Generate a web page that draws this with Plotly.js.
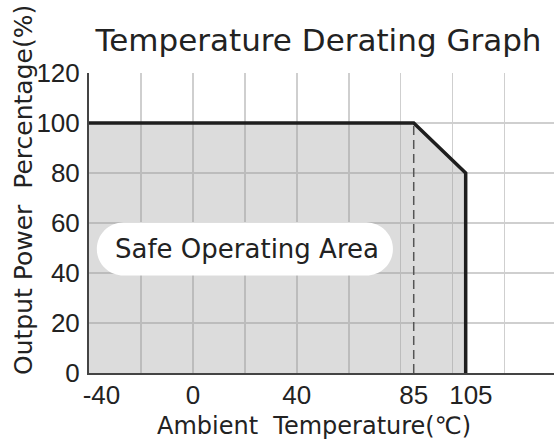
<!DOCTYPE html>
<html>
<head>
<meta charset="utf-8">
<script src="https://cdn.plot.ly/plotly-3.0.1.min.js"></script>
<style>html,body{margin:0;padding:0;background:#fff;}#chart{width:554px;height:446px;}</style>
</head>
<body>
<div id="chart"></div>
<script>
// ---- data ----
var curveTemp = [-40, 85, 105, 105];
var curvePower = [100, 100, 80, 0];
var kneeTemp = [85, 85];
var kneePower = [0, 100];
var xTickVals = [-40, 0, 40, 85, 105];
var xTickText = ['\u2007\u2009\u2009-40', '0', '40', '85', '\u2009\u2009105'];
var yTickVals = [0, 20, 40, 60, 80, 100, 120];
var gridTemps = [-40, -20, 0, 20, 40, 60, 80, 100, 120];
var titleText = 'Temperature Derating Graph';
var xTitle = 'Ambient&#160;&#160;Temperature(℃)';
var yTitle = 'Output Power&#160;&#160;Percentage(%)';
var areaLabel = 'Safe Operating Area';

var FONT = 'DejaVu Sans, sans-serif';
var NUMFONT = 'Liberation Sans, Arial, sans-serif';
var TXT = '#222222';
var xRange = [-40, 139];

// pill around label (data units)
var cx = 20, cy = 49.6, hw = 57, rx = 10.2, ry = 10.6, k = 0.5523;
var x0 = cx - hw, x1 = cx + hw, y0 = cy - ry, y1 = cy + ry;
function p(a, b) { return a.toFixed(3) + ',' + b.toFixed(3); }
var pill = 'M' + p(x0 + rx, y0) + ' L' + p(x1 - rx, y0) +
  ' C' + p(x1 - rx + k * rx, y0) + ' ' + p(x1, cy - k * ry) + ' ' + p(x1, cy) +
  ' C' + p(x1, cy + k * ry) + ' ' + p(x1 - rx + k * rx, y1) + ' ' + p(x1 - rx, y1) +
  ' L' + p(x0 + rx, y1) +
  ' C' + p(x0 + rx - k * rx, y1) + ' ' + p(x0, cy + k * ry) + ' ' + p(x0, cy) +
  ' C' + p(x0, cy - k * ry) + ' ' + p(x0 + rx - k * rx, y0) + ' ' + p(x0 + rx, y0) + ' Z';

var traces = [
  { x: curveTemp, y: curvePower, type: 'scatter', mode: 'lines', fill: 'tozeroy',
    fillcolor: 'rgba(150,150,150,0.33)', line: { color: '#1e1e1e', width: 3.5 },
    hoverinfo: 'skip', showlegend: false, xaxis: 'x', yaxis: 'y' },
  { x: kneeTemp, y: kneePower, type: 'scatter', mode: 'lines',
    line: { color: '#555555', width: 1.5, dash: '9px,5px' },
    hoverinfo: 'skip', showlegend: false, xaxis: 'x2', yaxis: 'y' }
];

var layout = {
  width: 554, height: 446,
  margin: { l: 89, r: 0, t: 73, b: 73 },
  paper_bgcolor: '#ffffff', plot_bgcolor: '#ffffff',
  title: { text: titleText, font: { family: FONT, size: 31, color: TXT },
           x: 0.575, xanchor: 'center', y: 0.91, yanchor: 'middle' },
  xaxis: { range: xRange, tickmode: 'array', tickvals: gridTemps, showticklabels: false,
           showgrid: true, gridcolor: '#cfcfcf', gridwidth: 1.5, zeroline: false,
           showline: true, linecolor: '#444444', linewidth: 2, ticks: '' },
  xaxis2: { range: xRange, overlaying: 'x', anchor: 'y', side: 'bottom', tickmode: 'array',
            tickvals: xTickVals, ticktext: xTickText, showgrid: false, zeroline: false,
            showline: false, ticks: '', ticklabelstandoff: 4,
            tickfont: { family: NUMFONT, size: 26, color: TXT } },
  yaxis: { range: [0, 120], tickmode: 'array', tickvals: yTickVals, showgrid: true,
           gridcolor: '#cfcfcf', gridwidth: 1.5, zeroline: false, showline: true,
           linecolor: '#444444', linewidth: 2, ticks: '', ticklabelstandoff: 2,
           tickfont: { family: NUMFONT, size: 26, color: TXT } },
  shapes: [
    { type: 'path', path: pill, xref: 'x', yref: 'y', fillcolor: '#ffffff',
      line: { width: 0 }, layer: 'above' }
  ],
  annotations: [
    { text: areaLabel, x: cx + 1, y: cy, xref: 'x', yref: 'y', showarrow: false,
      font: { family: FONT, size: 26, color: TXT } },
    { text: yTitle, xref: 'paper', yref: 'paper', showarrow: false,
      xanchor: 'center', yanchor: 'middle',
      x: (23 - 89) / (554 - 89), y: (373 - 190) / (373 - 73),
      textangle: -90, font: { family: FONT, size: 25, color: TXT } },
    { text: xTitle, xref: 'paper', yref: 'paper', showarrow: false,
      xanchor: 'center', yanchor: 'middle',
      x: (314 - 89) / (554 - 89), y: (373 - 426) / (373 - 73),
      font: { family: FONT, size: 24, color: TXT } }
  ]
};

Plotly.newPlot('chart', traces, layout, { displayModeBar: false, staticPlot: true });
</script>
</body>
</html>
